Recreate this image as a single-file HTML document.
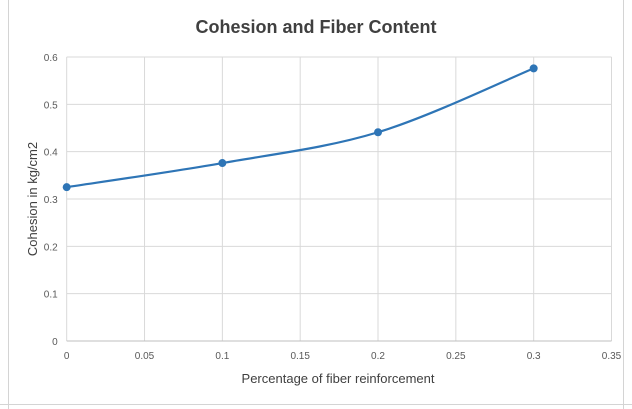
<!DOCTYPE html>
<html><head><meta charset="utf-8"><style>
body{margin:0;background:#fff;}
svg{display:block;font-family:"Liberation Sans",Calibri,sans-serif;}
</style></head><body>
<svg width="632" height="409" viewBox="0 0 632 409" id="c">
<rect x="0" y="0" width="632" height="409" fill="#fff"/>
<g stroke="#d4d4d4" stroke-width="1">
<line x1="8.5" y1="0" x2="8.5" y2="409"/>
<line x1="623.5" y1="0" x2="623.5" y2="409"/>
<line x1="0" y1="404.5" x2="632" y2="404.5"/>
</g>
<rect x="9" y="0" width="614" height="404" fill="#fff"/>
<text x="316" y="33" text-anchor="middle" font-size="18" font-weight="bold" fill="#404040">Cohesion and Fiber Content</text>
<g id="grid"></g>
<g id="ticks" font-size="10" fill="#595959"></g>
<text x="338" y="383" text-anchor="middle" font-size="13" fill="#404040">Percentage of fiber reinforcement</text>
<text transform="translate(37,199) rotate(-90)" text-anchor="middle" font-size="13" fill="#404040">Cohesion in kg/cm2</text>
<g id="series"></g>
</svg>
<script>
const xValues=[0,0.1,0.2,0.3];
const yValues=[0.325,0.376,0.441,0.576];
const xTicks=[0,0.05,0.1,0.15,0.2,0.25,0.3,0.35];
const yTicks=[0,0.1,0.2,0.3,0.4,0.5,0.6];
const L=66.7,R=611.5,T=57,B=341;
const sx=v=>L+(v-0)/(0.35)*(R-L);
const sy=v=>B-(v/0.6)*(B-T);
const ns="http://www.w3.org/2000/svg";
const grid=document.getElementById('grid'),ticks=document.getElementById('ticks'),ser=document.getElementById('series');
function mk(t,a,p){const e=document.createElementNS(ns,t);for(const k in a)e.setAttribute(k,a[k]);p.appendChild(e);return e;}
xTicks.forEach(v=>{
 const l=mk('line',{x1:sx(v),x2:sx(v),y1:T,y2:B,stroke:'#d9d9d9','stroke-width':1},grid);
 
 
 const t=mk('text',{x:sx(v),y:B+18,'text-anchor':'middle'},ticks);t.textContent=String(v);
 
 
});
yTicks.forEach(v=>{
 const l=mk('line',{x1:L,x2:R,y1:sy(v),y2:sy(v),stroke:v===0?'#bfbfbf':'#d9d9d9','stroke-width':1},grid);
 
 
 const t=mk('text',{x:L-9,y:sy(v)+4,'text-anchor':'end'},ticks);t.textContent=String(v);
 
 
});
const P=xValues.map((x,i)=>[sx(x),sy(yValues[i])]);
let d='M'+P[0][0]+','+P[0][1];
for(let i=0;i<P.length-1;i++){
 const p0=P[i-1]||P[i],p1=P[i],p2=P[i+1],p3=P[i+2]||P[i+1];
 const c1=[p1[0]+(p2[0]-p0[0])/6,p1[1]+(p2[1]-p0[1])/6];
 const c2=[p2[0]-(p3[0]-p1[0])/6,p2[1]-(p3[1]-p1[1])/6];
 d+=` C${c1[0]},${c1[1]} ${c2[0]},${c2[1]} ${p2[0]},${p2[1]}`;
}
const path=mk('path',{d:d,fill:'none',stroke:'#2e75b6','stroke-width':2.2},ser);


P.forEach(p=>{
 const c=mk('circle',{cx:p[0],cy:p[1],r:4,fill:'#2e75b6'},ser);
 
 
});
</script>
</body></html>
